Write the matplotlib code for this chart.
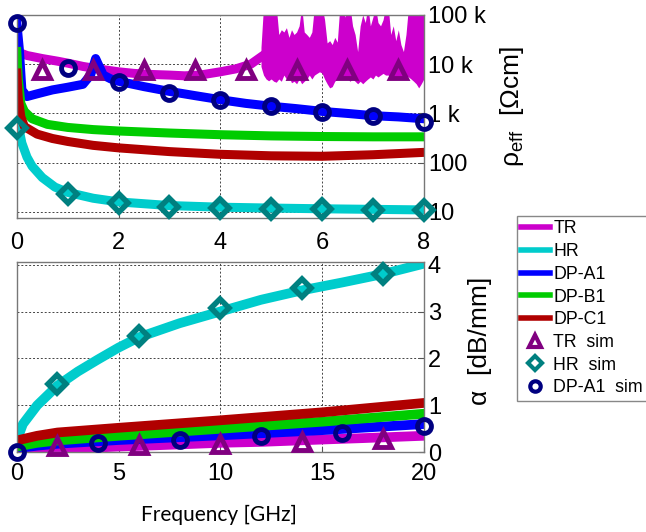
import numpy as np
import matplotlib
matplotlib.use("Agg")
import matplotlib.pyplot as plt

plt.rcParams["font.family"] = ["Liberation Sans", "DejaVu Sans"]

# ------------------------------------------------------------------
# top panel: effective resistivity vs frequency (0-8 GHz)
# ------------------------------------------------------------------
# TR below ~4.8 GHz is a smooth curve, above it a noisy band (upper/lower edge)
tr_f = [0.0, 0.2, 0.5, 0.8, 1.0, 1.3, 1.6, 2.0, 2.3, 2.6, 3.0, 3.3, 3.6, 4.0, 4.3, 4.6, 4.8]
tr_rho = [18e3, 15e3, 13e3, 11.5e3, 10.5e3, 9e3, 8e3, 7e3, 6.5e3, 6.2e3, 6e3, 5.8e3, 6e3,
          7e3, 8e3, 10e3, 14e3]

tr_nf = [4.8, 4.85, 4.9, 4.95, 5.0, 5.05, 5.1, 5.15, 5.2, 5.25, 5.3, 5.35, 5.4,
         5.45, 5.5, 5.55, 5.6, 5.65, 5.7, 5.75, 5.8, 5.85, 5.9, 5.95, 6.0, 6.05,
         6.1, 6.15, 6.2, 6.25, 6.3, 6.35, 6.4, 6.45, 6.5, 6.55, 6.6, 6.65, 6.7,
         6.75, 6.8, 6.85, 6.9, 6.95, 7.0, 7.05, 7.1, 7.15, 7.2, 7.25, 7.3, 7.35,
         7.4, 7.45, 7.5, 7.55, 7.6, 7.65, 7.7, 7.75, 7.8, 7.85, 7.9, 7.95, 8.0]
tr_hi = [22e3, 150e3, 150e3, 150e3, 150e3, 150e3, 150e3, 40e3, 50e3, 45e3, 55e3, 35e3, 50e3,
         40e3, 45e3, 60e3, 150e3, 45e3, 40e3, 35e3, 45e3, 150e3, 150e3, 150e3, 150e3, 80e3,
         27e3, 30e3, 25e3, 35e3, 28e3, 150e3, 150e3, 90e3, 150e3, 150e3, 60e3, 40e3, 18e3,
         60e3, 100e3, 70e3, 150e3, 60e3, 90e3, 150e3, 70e3, 60e3, 80e3, 150e3, 150e3, 40e3,
         60e3, 30e3, 50e3, 25e3, 18e3, 40e3, 150e3, 150e3, 150e3, 150e3, 150e3, 150e3, 150e3]
tr_lo = [9e3, 6e3, 5e3, 4.6e3, 5e3, 4.5e3, 4.3e3, 5e3, 4.5e3, 6e3, 5e3, 5.5e3, 4.2e3,
         4.5e3, 4e3, 5e3, 4e3, 4.5e3, 5e3, 6e3, 5e3, 6e3, 6.5e3, 7e3, 6.6e3, 5e3,
         4e3, 3.3e3, 3.5e3, 4.5e3, 5e3, 6e3, 5.5e3, 5e3, 5e3, 4.5e3, 5e3, 4.5e3, 4e3,
         4.5e3, 4e3, 4.5e3, 5e3, 5.5e3, 5e3, 6e3, 5.5e3, 6e3, 6.5e3, 6e3, 6e3, 5.5e3,
         5e3, 5.5e3, 5e3, 5.5e3, 5e3, 6e3, 5.5e3, 5e3, 4.5e3, 4e3, 3.3e3, 4e3, 5e3]

hr_f = [0.0, 0.05, 0.1, 0.2, 0.3, 0.5, 0.75, 1.0, 1.5, 2.0, 3.0, 4.0, 5.0, 6.0, 7.0, 8.0]
hr_rho = [1500, 450, 250, 130, 85, 50, 32, 25, 19, 16, 13.5, 12.5, 12, 11.6, 11.3, 11]

a1_f = [0.0, 0.05, 0.1, 0.2, 0.4, 0.7, 1.0, 1.3, 1.45, 1.55, 1.6, 1.7, 1.85, 2.0, 2.5, 3.0,
        3.5, 4.0, 4.5, 5.0, 5.5, 6.0, 6.5, 7.0, 7.5, 8.0]
a1_rho = [70e3, 20e3, 3e3, 2.2e3, 2.5e3, 3e3, 3.4e3, 3.9e3, 6e3, 13e3, 10e3, 6e3, 5e3, 4.5e3,
          3.5e3, 2.8e3, 2.3e3, 1.9e3, 1.6e3, 1.4e3, 1.25e3, 1.1e3, 1.0e3, 0.9e3, 0.85e3, 0.78e3]

b1_f = [0.0, 0.03, 0.08, 0.15, 0.3, 0.6, 1.0, 1.5, 2.0, 3.0, 4.0, 5.0, 6.0, 7.0, 8.0]
b1_rho = [18e3, 5e3, 1.6e3, 1.1e3, 780, 600, 520, 470, 440, 400, 370, 350, 340, 335, 335]

c1_f = [0.0, 0.03, 0.08, 0.15, 0.4, 0.7, 1.0, 1.5, 2.0, 3.0, 4.0, 5.0, 6.0, 7.0, 8.0]
c1_rho = [6.6e3, 2e3, 850, 540, 380, 310, 270, 225, 200, 168, 148, 138, 135, 145, 162]

trsim_f = [0.5, 1.5, 2.5, 3.5, 4.5, 5.5, 6.5, 7.5]
trsim_rho = [7.5e3, 7.5e3, 7.5e3, 7.5e3, 7.5e3, 7.5e3, 7.5e3, 7.5e3]

hrsim_f = [0, 1, 2, 3, 4, 5, 6, 7, 8]
hrsim_rho = [500, 23, 15, 12.8, 12, 11.6, 11.3, 11, 10.8]

a1sim_f = [0, 1, 2, 3, 4, 5, 6, 7, 8]
a1sim_rho = [68e3, 8.3e3, 4.4e3, 2.6e3, 1.9e3, 1.4e3, 1.05e3, 0.88e3, 0.66e3]

rho_ticks = [10, 100, 1e3, 1e4, 1e5]
rho_labels = ["10", "100", "1 k", "10 k", "100 k"]

# ------------------------------------------------------------------
# bottom panel: attenuation vs frequency (0-20 GHz)
# ------------------------------------------------------------------
hr_fa = [0, 0.3, 1, 2, 3, 4, 5, 6, 8, 10, 12, 14, 16, 18, 20]
hr_alpha = [0.25, 0.6, 1.0, 1.42, 1.72, 1.98, 2.23, 2.45, 2.75, 3.0, 3.25, 3.45, 3.62, 3.8, 4.02]

c1_fa = [0, 1, 2, 5, 10, 15, 20]
c1_alpha = [0.25, 0.35, 0.42, 0.52, 0.68, 0.85, 1.05]

b1_fa = [0, 1, 2, 5, 10, 15, 20]
b1_alpha = [0.12, 0.2, 0.25, 0.35, 0.5, 0.65, 0.82]

a1_fa = [0, 1, 2, 5, 10, 15, 20]
a1_alpha = [0.08, 0.14, 0.18, 0.26, 0.36, 0.47, 0.6]

tr_fa = [0, 1, 2, 4, 5, 7, 10, 12, 15, 17, 20]
tr_alpha = [0.03, 0.06, 0.08, 0.1, 0.12, 0.15, 0.2, 0.22, 0.27, 0.3, 0.35]

trsim_fa = [2, 6, 10, 14, 18]
trsim_alpha = [0.13, 0.15, 0.18, 0.22, 0.28]

hrsim_fa = [2, 6, 10, 14, 18]
hrsim_alpha = [1.45, 2.47, 3.07, 3.5, 3.8]

a1sim_fa = [0, 4, 8, 12, 16, 20]
a1sim_alpha = [0.0, 0.2, 0.27, 0.35, 0.42, 0.55]

# colours
c_tr, c_hr, c_a1, c_b1, c_c1 = "#CC00CC", "#00CCCC", "#0000FF", "#00CC00", "#B00000"
c_trs, c_hrs, c_a1s = "#800080", "#008080", "#000080"

fig = plt.figure(figsize=(6.46, 5.32), dpi=100)
ax1 = fig.add_axes([0.026, 0.590, 0.630, 0.382])
ax2 = fig.add_axes([0.026, 0.150, 0.630, 0.357])

lw_top = 6.5
lw_bot = 7
sim_kw = dict(linestyle="none", markerfacecolor="none", clip_on=False, zorder=5)
tri_kw = dict(marker="^", ms=12, mew=3.5, color=c_trs)
dia_kw = dict(marker="D", ms=9, mew=4, color=c_hrs)
cir_kw = dict(marker="o", ms=10, mew=3.5, color=c_a1s)

# top
ax1.plot(tr_f, tr_rho, color=c_tr, lw=lw_top, label="TR")
ax1.fill_between(tr_nf, tr_lo, tr_hi, color=c_tr, lw=0)
ax1.plot(hr_f, hr_rho, color=c_hr, lw=lw_top, label="HR")
ax1.plot(a1_f, a1_rho, color=c_a1, lw=lw_top, label="DP-A1")
ax1.plot(b1_f, b1_rho, color=c_b1, lw=lw_top, label="DP-B1")
ax1.plot(c1_f, c1_rho, color=c_c1, lw=lw_top, label="DP-C1")
ax1.plot(trsim_f, trsim_rho, label="TR  sim", **tri_kw, **sim_kw)
ax1.plot(hrsim_f, hrsim_rho, label="HR  sim", **dia_kw, **sim_kw)
ax1.plot(a1sim_f, a1sim_rho, label="DP-A1  sim", **cir_kw, **sim_kw)

ax1.set_yscale("log")
ax1.set_xlim(0, 8)
ax1.set_ylim(7.5, 1e5)
ax1.set_xticks([0, 2, 4, 6, 8])
ax1.set_yticks(rho_ticks)
ax1.set_yticklabels(rho_labels)

# bottom
ax2.plot(tr_fa, tr_alpha, color=c_tr, lw=lw_bot)
ax2.plot(hr_fa, hr_alpha, color=c_hr, lw=lw_bot)
ax2.plot(a1_fa, a1_alpha, color=c_a1, lw=lw_bot)
ax2.plot(b1_fa, b1_alpha, color=c_b1, lw=lw_bot)
ax2.plot(c1_fa, c1_alpha, color=c_c1, lw=lw_bot)
ax2.plot(trsim_fa, trsim_alpha, **tri_kw, **sim_kw)
ax2.plot(hrsim_fa, hrsim_alpha, **dia_kw, **sim_kw)
ax2.plot(a1sim_fa, a1sim_alpha, **cir_kw, **sim_kw)

ax2.set_xlim(0, 20)
ax2.set_ylim(0, 4.05)
ax2.set_xticks([0, 5, 10, 15, 20])
ax2.set_yticks([0, 1, 2, 3, 4])

for ax in (ax1, ax2):
    ax.yaxis.tick_right()
    ax.tick_params(axis="both", which="both", direction="in", labelsize=17, pad=3,
                   color="#555555", top=False)
    ax.tick_params(axis="y", which="minor", length=2)
    for s in ax.spines.values():
        s.set_color("#777777")
        s.set_linewidth(1.0)
    ax.set_axisbelow(True)
    ax.grid(True, which="major", linestyle=(0, (2, 2)), color="#444444", lw=0.7)
ax1.yaxis.grid(True, which="minor", linestyle=(0, (2, 2)), color="#444444", lw=0.6)
ax1.tick_params(axis="x", pad=10)
ax2.tick_params(axis="x", pad=8)

fig.text(0.793, 0.80, r"ρ$_{\mathregular{eff}}$  [Ωcm]", rotation=90,
         ha="center", va="center", fontsize=19)
fig.text(0.743, 0.36, "α  [dB/mm]", rotation=90, ha="center", va="center", fontsize=19)
fig.text(0.339, 0.032, "Frequency [GHz]", ha="center", va="center", fontsize=15,
         family=["Lato", "DejaVu Sans"])

leg = fig.legend(*ax1.get_legend_handles_labels(), loc="upper left",
                 bbox_to_anchor=(0.800, 0.594), fontsize=12.8, frameon=True,
                 fancybox=False, edgecolor="#888888", framealpha=1,
                 handlelength=1.6, handletextpad=0.2, labelspacing=0.32,
                 borderpad=0.25, borderaxespad=0)
for line in leg.get_lines():
    if line.get_linestyle() != "None":
        line.set_linewidth(4)
    else:
        line.set_markersize(line.get_markersize() * 0.75)
        line.set_markeredgewidth(3)

fig.savefig("out.png", dpi=100)
